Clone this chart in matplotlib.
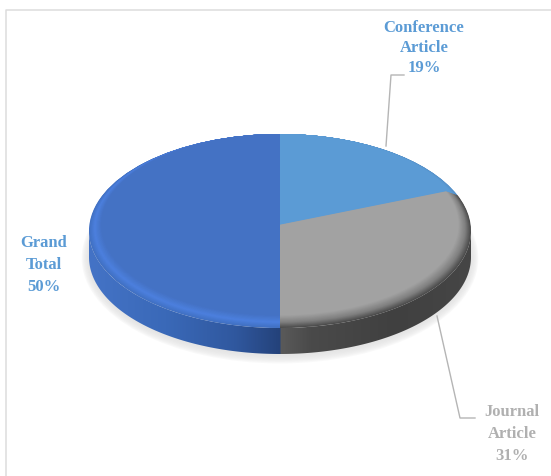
import matplotlib
matplotlib.use('Agg')
import matplotlib.pyplot as plt
from matplotlib.colors import LinearSegmentedColormap, to_rgb
from matplotlib.patches import Ellipse, Polygon
import numpy as np

labels = ['Conference\nArticle\n19%', 'Journal\nArticle\n31%', 'Grand\nTotal\n50%']
values = [19, 31, 50]
label_colors = ['#5b9bd5', '#b0b0b0', '#5b9bd5']

W, H = 551, 477
# pie ellipse in pixels
cx, cy, rx, ry = 280, 232, 191, 97
depth = 26 / ry
bevel = 0.065

fig = plt.figure(figsize=(W / 100, H / 100), dpi=100)

# pixel axes for frame, leaders and text
bg = fig.add_axes([0, 0, 1, 1])
bg.set_xlim(0, W)
bg.set_ylim(H, 0)
bg.axis('off')
bg.plot([6, 6, W], [H, 11, 11], color='#dcdcdc', lw=1.1)

ax = fig.add_axes([0, 0, 1, 1])
ax.patch.set_alpha(0)


def ramp(c0, c1, t):
    c0, c1 = np.array(to_rgb(c0)), np.array(to_rgb(c1))
    return tuple(c0 + (c1 - c0) * t)


# soft shadow under the disc
for s in np.linspace(0.085, 0, 8):
    ax.add_patch(Ellipse((0, -depth - 0.012), 2 * (1 + s * 0.45), 2 * (1 + s),
                         color='#e2e2e2', alpha=0.2, lw=0))

# side wall, coloured with a left to right gradient
t = np.linspace(np.pi, 2 * np.pi, 200)
outline = np.r_[np.c_[np.cos(t), np.sin(t) - depth],
                np.c_[np.cos(t[::-1]), np.sin(t[::-1])]]
wall = Polygon(outline, closed=True, transform=ax.transData, fc='none', ec='none')
ax.add_patch(wall)
wall_cmap = LinearSegmentedColormap.from_list('wall', [
    (0.0, '#4473c6'), (0.2, '#3a69b8'), (0.38, '#30589f'), (0.4995, '#24427a'),
    (0.5005, '#5a5a5a'), (0.58, '#4a4a4a'), (0.8, '#404040'), (1.0, '#464646')])
img = ax.imshow(np.linspace(0, 1, 512)[None, :], cmap=wall_cmap, aspect='auto',
                extent=(-1, 1, -1 - depth, 0.2), zorder=1)
img.set_clip_path(wall)

# bevelled top, stacked pies shrinking towards the top tangent
blue_ramp = ['#4170c2', '#4c80de', '#4472c4']
gray_ramp = ['#4a4a4a', '#808080', '#a2a2a2']
light_ramp = ['#5590c8', '#5b9bd5', '#5b9bd5']
for s in np.linspace(0, 1, 24):
    if s < 0.45:
        i, f = 0, s / 0.45
    else:
        i, f = 1, (s - 0.45) / 0.55
    cols = [ramp(light_ramp[i], light_ramp[i + 1], f),
            ramp(gray_ramp[i], gray_ramp[i + 1], f),
            ramp(blue_ramp[i], blue_ramp[i + 1], f)]
    r = 1 - bevel * s
    wedges, _ = ax.pie(values, colors=cols, startangle=90, counterclock=False,
                       radius=r, center=(0, bevel * s), normalize=True,
                       wedgeprops={'lw': 0})
    for w in wedges:
        w.set_zorder(2 + s)

ax.set_aspect('auto')
ax.set_xlim(-cx / rx, (W - cx) / rx)
ax.set_ylim((cy - H) / ry, cy / ry)
ax.axis('off')

# leaders and labels go above the pie
top = fig.add_axes([0, 0, 1, 1])
top.patch.set_alpha(0)
top.set_xlim(0, W)
top.set_ylim(H, 0)
top.axis('off')
top.plot([404, 391, 386], [76, 76, 147], color='#b5b5b5', lw=1)
top.plot([437, 460, 475], [317, 419, 419], color='#b5b5b5', lw=1)

label_pos = [(424, 48), (512, 434), (44, 265)]
spacing = [1.35, 1.5, 1.5]
for lab, col, (x, y), sp in zip(labels, label_colors, label_pos, spacing):
    top.text(x, y, lab, color=col, ha='center', va='center', fontsize=12,
             fontweight='bold', family='Liberation Serif', linespacing=sp)

fig.savefig('out.png', dpi=100)
